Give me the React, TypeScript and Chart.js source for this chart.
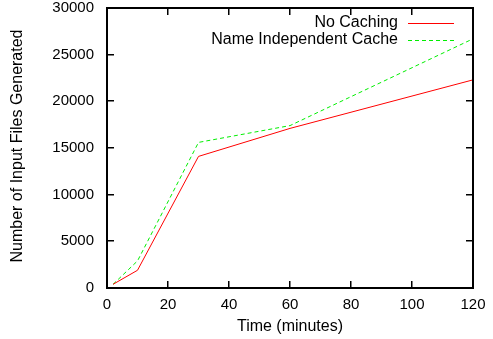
import React, { useEffect, useRef } from "react";
import { Chart, registerables } from "chart.js";

Chart.register(...registerables);

const minutes = [2, 10, 30, 60, 120];
const noCaching = [400, 1900, 14100, 17100, 22300];
const nameIndependent = [400, 2900, 15600, 17400, 26700];
const seriesLabels = ["No Caching", "Name Independent Cache"];
const xTitle = "Time (minutes)";
const yTitle = "Number of Input Files Generated";

const FONT = "'Liberation Sans', Arial, sans-serif";
const TICK_FS = 15;
const FS = 16;

const framePlugin = {
  id: "gnuFrame",
  afterDraw(chart: any) {
    const ctx: CanvasRenderingContext2D = chart.ctx;
    const xs = chart.scales.x;
    const ys = chart.scales.y;
    const L = Math.round(xs.left);
    const R = Math.round(xs.right);
    const T = Math.round(ys.top);
    const B = Math.round(ys.bottom);
    ctx.save();
    ctx.fillStyle = "#000000";
    ctx.fillRect(L - 1, T - 1, R - L + 2, 2);
    ctx.fillRect(L - 1, B - 1, R - L + 2, 2);
    ctx.fillRect(L - 1, T - 1, 2, B - T + 2);
    ctx.fillRect(R - 1, T - 1, 2, B - T + 2);
    const tl = 7;
    xs.ticks.forEach((t: any) => {
      const px = Math.round(xs.getPixelForValue(t.value));
      ctx.fillRect(px - 1, B - tl, 1.5, tl);
      ctx.fillRect(px - 1, T, 1.5, tl);
    });
    ys.ticks.forEach((t: any) => {
      const py = Math.round(ys.getPixelForValue(t.value));
      ctx.fillRect(L, py - 1, tl, 1.5);
      ctx.fillRect(R - tl, py - 1, tl, 1.5);
    });

    // legend
    ctx.font = `${FS}px ${FONT}`;
    ctx.textAlign = "right";
    ctx.textBaseline = "middle";
    const colors = ["#ff0000", "#00ee00"];
    seriesLabels.forEach((lab, i) => {
      const y = 23 + i * 17;
      ctx.fillStyle = "#000000";
      ctx.fillText(lab, 398, y);
      ctx.fillStyle = colors[i];
      if (i === 0) {
        ctx.fillRect(408, y, 46, 1);
      } else {
        for (let x = 408; x < 454; x += 7) {
          ctx.fillRect(x, y, Math.min(4, 454 - x), 1);
        }
      }
    });

    ctx.fillStyle = "#000000";
    ctx.textAlign = "center";
    ctx.fillText(xTitle, 290, 327);
    ctx.translate(18, 146);
    ctx.rotate(-Math.PI / 2);
    ctx.fillText(yTitle, 0, 0);
    ctx.restore();
  },
};

export default function App() {
  const ref = useRef<HTMLCanvasElement | null>(null);
  useEffect(() => {
    document.body.style.margin = "0";
    const chart = new Chart(ref.current!, {
      type: "line",
      data: {
        datasets: [
          {
            label: seriesLabels[0],
            data: minutes.map((m, i) => ({ x: m, y: noCaching[i] })),
            borderColor: "#ff0000",
            borderWidth: 1,
            pointRadius: 0,
            tension: 0,
          },
          {
            label: seriesLabels[1],
            data: minutes.map((m, i) => ({ x: m, y: nameIndependent[i] })),
            borderColor: "#00ee00",
            borderWidth: 1,
            borderDash: [4, 3],
            pointRadius: 0,
            tension: 0,
          },
        ],
      },
      options: {
        animation: false,
        responsive: false,
        maintainAspectRatio: false,
        layout: { padding: { left: 0, right: 20, top: 8, bottom: 0 } },
        plugins: { legend: { display: false }, tooltip: { enabled: false } },
        scales: {
          x: {
            type: "linear",
            min: 0,
            max: 120,
            border: { display: false },
            grid: { display: false, drawTicks: false },
            ticks: {
              stepSize: 20,
              padding: 8,
              color: "#000",
              font: { family: FONT, size: TICK_FS },
              maxRotation: 0,
              callback: (v: any) => String(v),
            },
            afterFit(scale: any) {
              scale.height = 51;
              scale.paddingLeft = 0;
              scale.paddingRight = 0;
            },
          },
          y: {
            min: 0,
            max: 30000,
            border: { display: false },
            grid: { display: false, drawTicks: false },
            ticks: {
              stepSize: 5000,
              padding: 13,
              color: "#000",
              font: { family: FONT, size: TICK_FS },
              callback: (v: any) => String(v),
            },
            afterFit(scale: any) {
              scale.width = 107;
              scale.paddingTop = 0;
              scale.paddingBottom = 0;
            },
          },
        },
      },
      plugins: [framePlugin],
    });
    return () => chart.destroy();
  }, []);
  return (
    <div style={{ position: "absolute", left: 0, top: 0, width: 493, height: 339, background: "#fff" }}>
      <canvas ref={ref} width={493} height={339} />
    </div>
  );
}
